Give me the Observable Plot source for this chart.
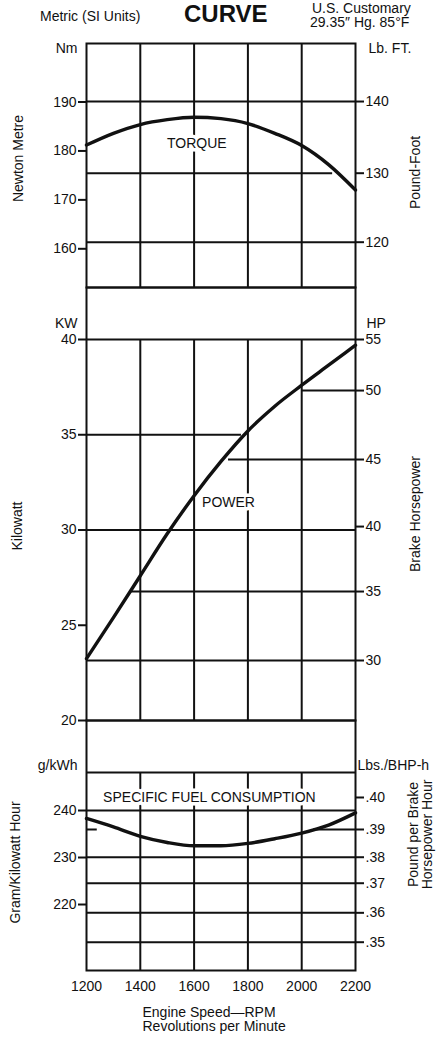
<!DOCTYPE html>
<html>
<head>
<meta charset="utf-8">
<script src="https://cdn.jsdelivr.net/npm/d3@7"></script>
<script src="https://cdn.jsdelivr.net/npm/@observablehq/plot@0.6"></script>
<style>
  html, body { margin: 0; padding: 0; background: #fff; }
  #wrap { position: relative; width: 438px; height: 1037px; overflow: hidden;
          font-family: "Liberation Sans", Arial, Helvetica, sans-serif; color: #111; background: #fff; }
  .t { position: absolute; white-space: nowrap; font-size: 14px; line-height: 1; }
</style>
</head>
<body>
<div id="wrap">
  <div class="t" style="left:184px;top:2px;font-size:24px;font-weight:bold;">CURVE</div>
  <div class="t" style="left:40px;top:9px;">Metric (SI Units)</div>
  <div class="t" style="left:312px;top:1px;">U.S. Customary</div>
  <div class="t" style="left:310px;top:15px;">29.35″ Hg. 85°F</div>
</div>
<script>
// ---------- data ----------
const rpm       = [1200, 1300, 1400, 1500, 1600, 1700, 1800, 1900, 2000, 2100, 2200];
const torqueNm  = [181.2, 183.6, 185.4, 186.4, 186.9, 186.6, 185.6, 183.6, 181.1, 177.2, 172.0];
const powerKw   = [23.25, 25.4, 27.6, 29.8, 31.8, 33.6, 35.2, 36.5, 37.6, 38.65, 39.7];
const fuelGkwh  = [238.3, 236.5, 234.5, 233.2, 232.5, 232.5, 233.0, 234.0, 235.2, 236.9, 239.5];

const rpmTicks  = [1200, 1400, 1600, 1800, 2000, 2200];
const rpmGrid   = [1400, 1600, 1800, 2000];

// torque axes
const nmTicks    = [160, 170, 180, 190];
const lbFtTicks  = [140, 130, 120];
const lbFtOnNm   = [190.1, 175.45, 161.35];      // where each lb-ft tick sits on the Nm scale

// power axes
const kwTicks    = [20, 25, 30, 35, 40];
const hpTicks    = [55, 50, 45, 40, 35, 30];
const hpOnKw     = [40.0, 37.32, 33.70, 30.18, 26.77, 23.15];

// fuel axes
const gTicks     = [220, 230, 240];
const lbHpTicks  = [0.40, 0.39, 0.38, 0.37, 0.36, 0.35];
const lbHpOnG    = [242.77, 235.96, 230.06, 224.53, 218.23, 211.98];

// horizontal grid segments (value, from rpm, to rpm)
const torqueGridY    = [lbFtOnNm[0], lbFtOnNm[1], lbFtOnNm[2]];
const torqueGridFrom = [1200, 1200, 1200];
const torqueGridTo   = [2200, 2115, 2200];

const powerGridY    = [40, 35, 30, hpOnKw[1], hpOnKw[2], hpOnKw[4], hpOnKw[5]];
const powerGridFrom = [1200, 1200, 1200, 2003, 1728, 1363, 1200];
const powerGridTo   = [2200, 1776, 2200, 2200, 2200, 2200, 2200];

const fuelGridY    = [248.09, 240, lbHpOnG[1], lbHpOnG[1], lbHpOnG[2], lbHpOnG[3], lbHpOnG[4], lbHpOnG[5]];
const fuelGridFrom = [1200, 1200, 1200, 2044, 1200, 1200, 1200, 1200];
const fuelGridTo   = [2200, 2200, 1240, 2200, 2200, 2200, 2200, 2200];

// ---------- layout ----------
const INK = "#111";
const FONT = '"Liberation Sans", Arial, Helvetica, sans-serif';
const W = 438, ML = 86, MR = 83, FS = 14;
const style = `background:transparent;font-family:${FONT};font-size:14px;color:${INK};overflow:visible;`;
const wrap = document.getElementById("wrap");

const seg = (ys, from, to) => ys.map((y, i) => ({y, x1: from[i], x2: to[i]}));
const series = (vals) => rpm.map((r, i) => ({r, v: vals[i]}));
const labelMap = (pos, labels, fmt) => new Map(pos.map((p, i) => [p, fmt(labels[i])]));
const T = (s, o) => Plot.text([s], {text: d => d, fontSize: FS, fill: INK, ...o});
const halo = {stroke: "white", strokeWidth: 7, paintOrder: "stroke"};
const axL = (ticks) => Plot.axisY({anchor: "left", ticks, tickSize: 8, tickPadding: 2, strokeWidth: 2, label: null, fontSize: FS});
const axR = (ticks, fmt) => Plot.axisY({anchor: "right", ticks, tickSize: 8, tickPadding: 2, strokeWidth: 2, label: null, fontSize: FS,
                                        tickFormat: d => fmt.get(d)});

function place(svg, top) {
  svg.style.position = "absolute";
  svg.style.left = "0px";
  svg.style.top = top + "px";
  wrap.appendChild(svg);
}

function gridMarks(lo, hi, segs) {
  return [
    Plot.ruleX(rpmGrid, {y1: lo, y2: hi, stroke: INK, strokeWidth: 2}),
    Plot.ruleY(segs, {y: "y", x1: "x1", x2: "x2", stroke: INK, strokeWidth: 2})
  ];
}

// ---------- TORQUE ----------
const tDom = [152.09, 201.96];
place(Plot.plot({
  width: W, height: 300, marginTop: 43, marginBottom: 13, marginLeft: ML, marginRight: MR,
  style,
  x: {domain: [1200, 2200], axis: null},
  y: {domain: tDom},
  marks: [
    ...gridMarks(tDom[0], tDom[1], seg(torqueGridY, torqueGridFrom, torqueGridTo)),
    Plot.frame({stroke: INK, strokeWidth: 2}),
    axL(nmTicks),
    axR(lbFtOnNm, labelMap(lbFtOnNm, lbFtTicks, String)),
    T("TORQUE", {x: 1610, y: 181.6, ...halo}),
    Plot.line(series(torqueNm), {x: "r", y: "v", curve: "monotone-x", stroke: INK, strokeWidth: 3.4}),
    T("Nm", {frameAnchor: "top-left", dx: -9, textAnchor: "end"}),
    T("Lb. FT.", {frameAnchor: "top-right", dx: 13, textAnchor: "start"}),
    T("Newton Metre", {frameAnchor: "left", dx: -68, dy: -7, rotate: -90, textAnchor: "middle"}),
    T("Pound-Foot", {frameAnchor: "right", dx: 60, dy: 7, rotate: -90, textAnchor: "middle"})
  ]
}), 0);

// ---------- POWER ----------
const pDom = [20, 42.73];
place(Plot.plot({
  width: W, height: 459, marginTop: 13, marginBottom: 13, marginLeft: ML, marginRight: MR,
  style,
  x: {domain: [1200, 2200], axis: null},
  y: {domain: pDom},
  marks: [
    ...gridMarks(20, 40, seg(powerGridY, powerGridFrom, powerGridTo)),
    Plot.frame({stroke: INK, strokeWidth: 2}),
    axL(kwTicks),
    axR(hpOnKw, labelMap(hpOnKw, hpTicks, String)),
    T("POWER", {x: 1728, y: 31.44, ...halo}),
    Plot.line(series(powerKw), {x: "r", y: "v", curve: "monotone-x", stroke: INK, strokeWidth: 3.4}),
    T("KW", {frameAnchor: "top-left", dx: -9, dy: 31, textAnchor: "end"}),
    T("HP", {frameAnchor: "top-right", dx: 11, dy: 31, textAnchor: "start"}),
    T("Kilowatt", {frameAnchor: "left", dx: -69, dy: 22, rotate: -90, textAnchor: "middle"}),
    T("Brake Horsepower", {frameAnchor: "right", dx: 60, dy: 10, rotate: -90, textAnchor: "middle"})
  ]
}), 274);

// ---------- SPECIFIC FUEL CONSUMPTION ----------
const fDom = [205.96, 259.15];
place(Plot.plot({
  width: W, height: 330, marginTop: 13, marginBottom: 67, marginLeft: ML, marginRight: MR,
  style,
  x: {domain: [1200, 2200]},
  y: {domain: fDom},
  marks: [
    ...gridMarks(fDom[0], 248.09, seg(fuelGridY, fuelGridFrom, fuelGridTo)),
    Plot.frame({stroke: INK, strokeWidth: 2}),
    axL(gTicks),
    axR(lbHpOnG, labelMap(lbHpOnG, lbHpTicks, v => d3.format(".2f")(v).replace(/^0/, ""))),
    Plot.axisX({anchor: "bottom", ticks: rpmTicks, tickSize: 0, tickPadding: 11, label: null, fontSize: FS,
                tickFormat: d3.format("d")}),
    T("SPECIFIC FUEL CONSUMPTION", {x: 1657, y: 242.8, ...halo}),
    Plot.line(series(fuelGkwh), {x: "r", y: "v", curve: "monotone-x", stroke: INK, strokeWidth: 3.4}),
    T("g/kWh", {frameAnchor: "top-left", dx: -9, dy: 40, textAnchor: "end"}),
    T("Lbs./BHP-h", {frameAnchor: "top-right", dx: 2, dy: 40, textAnchor: "start"}),
    T("Gram/Kilowatt Hour", {frameAnchor: "left", dx: -71, dy: 17, rotate: -90, textAnchor: "middle"}),
    T("Pound per Brake\nHorsepower Hour", {frameAnchor: "right", dx: 65, dy: -11, rotate: -90, textAnchor: "middle",
                                           lineAnchor: "middle", lineHeight: 1.0}),
    T("Engine Speed—RPM\nRevolutions per Minute", {frameAnchor: "bottom-left", dx: 56, dy: 37,
                                           textAnchor: "start", lineAnchor: "top", lineHeight: 1.0})
  ]
}), 707);
</script>
</body>
</html>
